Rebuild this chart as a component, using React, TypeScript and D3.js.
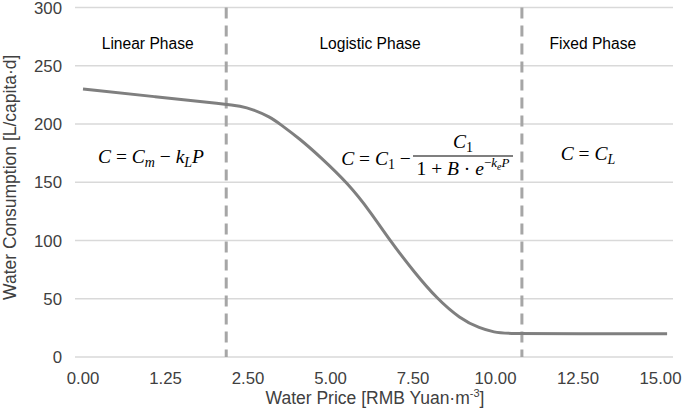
import React from 'react';
import * as d3 from 'd3';

// x tick labels (evenly spaced in the original figure)
const priceTicks = [0, 1.25, 2.5, 5, 7.5, 10, 12.5, 15];
const consumptionTicks = [0, 50, 100, 150, 200, 250, 300];

// curve
const priceValues = [0, 1.08, 2.17, 2.38, 2.65, 3.17, 3.47, 4.08, 4.68, 5.53, 6.2, 6.8, 7.56, 8.23, 8.92, 9.53, 9.98, 10.29, 12.5, 15.2];
const consumptionValues = [230, 223.5, 217, 215.5, 212.5, 206, 200, 187, 172, 149, 125, 100, 72, 50, 33, 24.5, 21.2, 20, 20, 20];

const phaseBounds = [2.17, 10.8];
const phaseNames = ['Linear Phase', 'Logistic Phase', 'Fixed Phase'];
const phaseLabelX = [0.98, 6.2, 12.95];

const W = 685;
const H = 417;

const App = () => {
  const x0 = 83;
  const step = 82.5;
  const x = d3.scaleLinear()
    .domain(priceTicks)
    .range(priceTicks.map((_, i) => x0 + i * step));
  const y = d3.scaleLinear().domain([0, 300]).range([357, 7.5]);

  const line = d3.line<number>()
    .x((_, i) => x(priceValues[i]))
    .y(d => y(d))
    .curve(d3.curveBasis);

  const gridX1 = 75;
  const gridX2 = 673;
  const sans = 'Liberation Sans, Arial, sans-serif';
  const math = 'Liberation Serif, serif';

  const labelPx = phaseLabelX.map(p => x(p));

  return (
    <svg width={W} height={H} style={{ position: 'absolute', left: 0, top: 0, background: '#fff' }}>
      {consumptionTicks.map(t => (
        <g key={t}>
          <line x1={gridX1} x2={gridX2} y1={y(t)} y2={y(t)} stroke="#d9d9d9" strokeWidth={1.3} />
          <text x={62} y={y(t)} dy="0.36em" textAnchor="end" fontFamily={sans} fontSize={16.8} fill="#404040">{t}</text>
        </g>
      ))}
      {priceTicks.map(t => (
        <text key={t} x={x(t)} y={384} textAnchor="middle" fontFamily={sans} fontSize={16.8} fill="#404040">{t.toFixed(2)}</text>
      ))}

      {phaseBounds.map(b => (
        <line key={b} x1={x(b)} x2={x(b)} y1={y(300)} y2={y(0)} stroke="#a6a6a6" strokeWidth={3} strokeDasharray="11,7" />
      ))}

      <path d={line(consumptionValues) || ''} fill="none" stroke="#7f7f7f" strokeWidth={3} />

      {phaseNames.map((n, i) => (
        <text key={n} x={labelPx[i]} y={49} textAnchor="middle" fontFamily={sans} fontSize={15.6} fill="#000">{n}</text>
      ))}

      {/* formulas */}
      <text x={151} y={163} textAnchor="middle" fontFamily={math} fontSize={19.5} fontStyle="italic" fill="#000">
        C <tspan fontStyle="normal">=</tspan> C<tspan fontSize={14} dy={4}>m</tspan><tspan dy={-4}> </tspan><tspan fontStyle="normal">−</tspan> k<tspan fontSize={14} dy={4}>L</tspan><tspan dy={-4}>P</tspan>
      </text>

      <text x={376} y={165} textAnchor="middle" fontFamily={math} fontSize={19.5} fontStyle="italic" fill="#000">
        C <tspan fontStyle="normal">=</tspan> C<tspan fontSize={14} fontStyle="normal" dy={4}>1</tspan><tspan dy={-4}> </tspan><tspan fontStyle="normal">−</tspan>
      </text>
      <text x={463} y={148} textAnchor="middle" fontFamily={math} fontSize={19.5} fontStyle="italic" fill="#000">
        C<tspan fontSize={14} fontStyle="normal" dy={4}>1</tspan>
      </text>
      <line x1={413} x2={513} y1={156} y2={156} stroke="#000" strokeWidth={1.2} />
      <text x={463} y={175} textAnchor="middle" fontFamily={math} fontSize={19.5} fontStyle="italic" fill="#000">
        <tspan fontStyle="normal">1 + </tspan>B<tspan fontStyle="normal"> · </tspan>e<tspan fontSize={13} dy={-8} fontStyle="normal">−</tspan><tspan fontSize={13} dy={0}>k</tspan><tspan fontSize={10} dy={3}>e</tspan><tspan fontSize={13} dy={-3}>P</tspan>
      </text>

      <text x={588} y={160} textAnchor="middle" fontFamily={math} fontSize={19.5} fontStyle="italic" fill="#000">
        C <tspan fontStyle="normal">=</tspan> C<tspan fontSize={14} dy={4}>L</tspan>
      </text>

      {/* axis titles */}
      <text x={375} y={404} textAnchor="middle" fontFamily={sans} fontSize={17.5} fill="#404040">
        Water Price [RMB Yuan·m<tspan fontSize={11} dy={-7}>-3</tspan><tspan dy={7}>]</tspan>
      </text>
      <text transform={`translate(16,${y(150) - 5}) rotate(-90)`} textAnchor="middle" fontFamily={sans} fontSize={17.5} fill="#404040">
        Water Consumption [L/capita·d]
      </text>
    </svg>
  );
};

export default App;
